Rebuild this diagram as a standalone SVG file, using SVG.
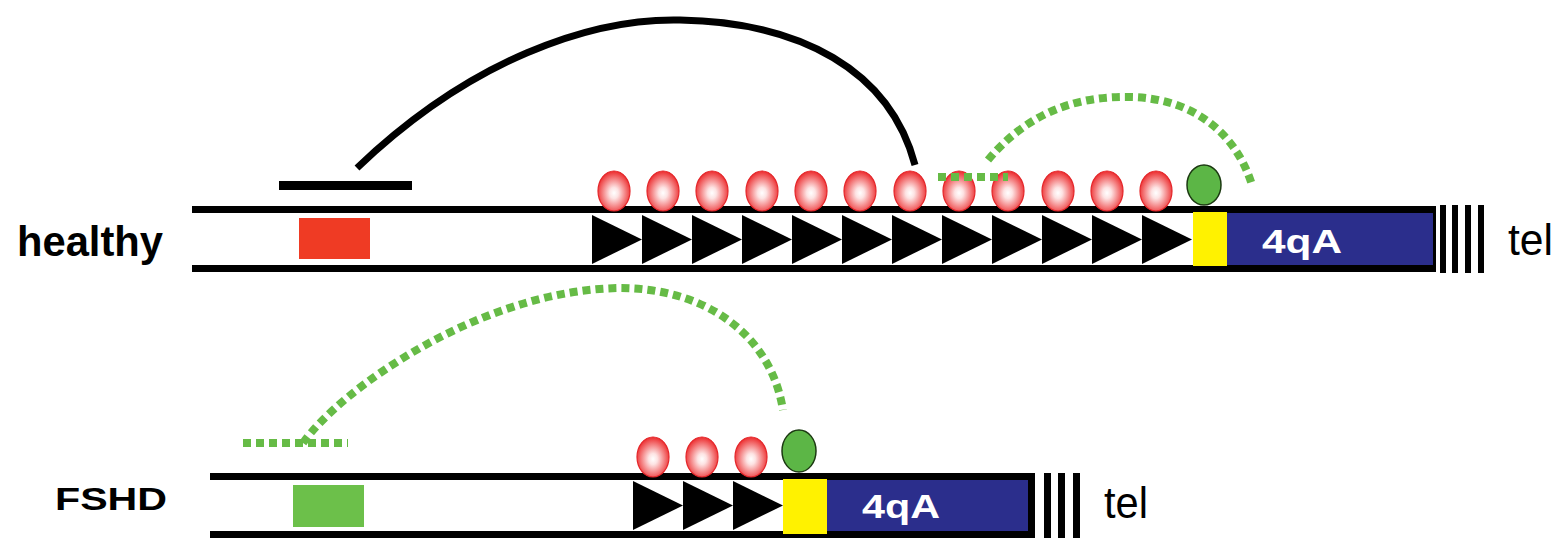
<svg xmlns="http://www.w3.org/2000/svg" width="1567" height="538" viewBox="0 0 1567 538">
<defs>
<radialGradient id="rg" cx="50%" cy="55%" r="55%">
<stop offset="0" stop-color="#ffffff"/>
<stop offset="0.25" stop-color="#fde3e3"/>
<stop offset="1" stop-color="#ec2a2c"/>
</radialGradient>
<polygon id="tri" points="0,0 0,49 50,24.5" fill="#000"/>
<ellipse id="bead" cx="0" cy="0" rx="16" ry="20" fill="url(#rg)" stroke="#e4262a" stroke-width="1.2"/>
</defs>
<style>
.lbl{font-family:"Liberation Sans",Arial,sans-serif;font-weight:bold;fill:#000}
.q{font-family:"Liberation Sans",Arial,sans-serif;font-weight:bold;fill:#fff}
.tel{font-family:"Liberation Sans",Arial,sans-serif;fill:#000}
.blk{fill:#000}
.blue{fill:#2b2e8c}
.yel{fill:#fff200}
.gdot{fill:#5cb646;stroke:#1c3a12;stroke-width:1.5}
.gdash{fill:none;stroke:#66bb46;stroke-width:8;stroke-dasharray:8 5}
</style>
<rect width="1567" height="538" fill="#fff"/>

<g id="healthy">
<text class="lbl" x="17" y="256" font-size="42" textLength="146" lengthAdjust="spacingAndGlyphs">healthy</text>
<rect class="blk" x="192" y="206" width="1243" height="7"/>
<rect class="blk" x="192" y="265" width="1243" height="7"/>
<rect x="299" y="218" width="71" height="41" fill="#ef3b24"/>
<rect class="blk" x="279" y="181" width="133" height="9"/>
<g id="healthy-repeats">
<use href="#tri" x="592" y="215"/><use href="#tri" x="642" y="215"/><use href="#tri" x="692" y="215"/><use href="#tri" x="742" y="215"/>
<use href="#tri" x="792" y="215"/><use href="#tri" x="842" y="215"/><use href="#tri" x="892" y="215"/><use href="#tri" x="942" y="215"/>
<use href="#tri" x="992" y="215"/><use href="#tri" x="1042" y="215"/><use href="#tri" x="1092" y="215"/><use href="#tri" x="1142" y="215"/>
</g>
<g id="healthy-beads">
<use href="#bead" x="614" y="191"/><use href="#bead" x="663" y="191"/><use href="#bead" x="712" y="191"/><use href="#bead" x="762" y="191"/>
<use href="#bead" x="811" y="191"/><use href="#bead" x="860" y="191"/><use href="#bead" x="910" y="191"/><use href="#bead" x="959" y="191"/>
<use href="#bead" x="1008" y="191"/><use href="#bead" x="1058" y="191"/><use href="#bead" x="1107" y="191"/><use href="#bead" x="1156" y="191"/>
</g>
<ellipse class="gdot" cx="1204" cy="185" rx="17" ry="20"/>
<rect class="yel" x="1193" y="212" width="34" height="54"/>
<rect class="blk" x="1227" y="206" width="209" height="66"/>
<rect class="blue" x="1227" y="213" width="206" height="52"/>
<text class="q" x="1262" y="253" font-size="33" textLength="80" lengthAdjust="spacingAndGlyphs">4qA</text>
<rect class="blk" x="1440" y="205" width="6" height="68"/>
<rect class="blk" x="1452" y="205" width="6" height="68"/>
<rect class="blk" x="1465" y="205" width="6" height="68"/>
<rect class="blk" x="1478" y="205" width="6" height="68"/>
<text class="tel" x="1508" y="255" font-size="44" textLength="45" lengthAdjust="spacingAndGlyphs">tel</text>
</g>

<g id="fshd">
<text class="lbl" x="55" y="510" font-size="32" textLength="112" lengthAdjust="spacingAndGlyphs">FSHD</text>
<rect class="blk" x="210" y="473" width="825" height="7"/>
<rect class="blk" x="210" y="531" width="825" height="7"/>
<rect x="293" y="485" width="71" height="42" fill="#6cc04a"/>
<g id="fshd-repeats">
<use href="#tri" x="633" y="481"/><use href="#tri" x="683" y="481"/><use href="#tri" x="733" y="481"/>
</g>
<g id="fshd-beads">
<use href="#bead" x="653" y="457"/><use href="#bead" x="702" y="457"/><use href="#bead" x="751" y="457"/>
</g>
<ellipse class="gdot" cx="799" cy="451" rx="17" ry="21"/>
<rect class="yel" x="783" y="479" width="44" height="55"/>
<rect class="blk" x="827" y="473" width="208" height="65"/>
<rect class="blue" x="827" y="480" width="201" height="51"/>
<text class="q" x="862" y="518" font-size="33" textLength="78" lengthAdjust="spacingAndGlyphs">4qA</text>
<rect class="blk" x="1044" y="473" width="7" height="65"/>
<rect class="blk" x="1058" y="473" width="7" height="65"/>
<rect class="blk" x="1073" y="473" width="7" height="65"/>
<text class="tel" x="1104" y="518" font-size="44" textLength="44" lengthAdjust="spacingAndGlyphs">tel</text>
</g>

<g id="connectors">
<path d="M357,168 C470,60 590,18 680,20 C800,22 890,70 915,165" fill="none" stroke="#000" stroke-width="7"/>
<path class="gdash" d="M938,177 H1008"/>
<path class="gdash" d="M988,160 C1030,110 1080,96 1130,97 C1190,98 1235,130 1252,185"/>
<path class="gdash" d="M243,443 H348"/>
<path class="gdash" d="M303,443 C340,390 480,290 620,288 C700,288 770,330 783,410"/>
</g>
</svg>
